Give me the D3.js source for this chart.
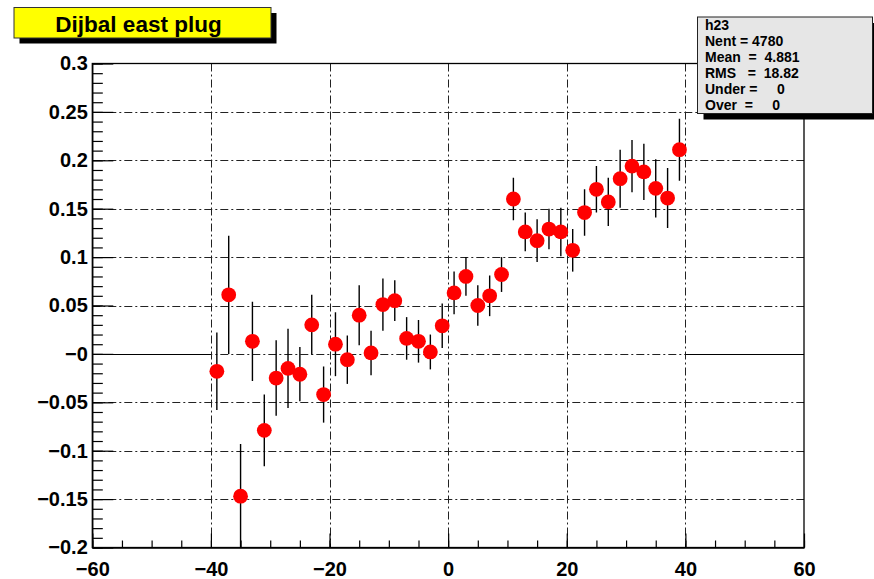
<!DOCTYPE html>
<html>
<head>
<meta charset="utf-8">
<script src="https://cdn.jsdelivr.net/npm/d3@7"></script>
<style>
  html, body { margin: 0; padding: 0; background: #fff; }
  svg { display: block; font-family: "Liberation Sans", Arial, Helvetica, sans-serif; font-weight: bold; }
</style>
</head>
<body>
<svg id="chart" width="874" height="579"></svg>
<script>
// Histogram h23: bin centres, contents and errors (bin width 2)
const binCenters = [-39, -37, -35, -33, -31, -29, -27, -25, -23, -21,
                    -19, -17, -15, -13, -11, -9, -7, -5, -3, -1,
                    1, 3, 5, 7, 9, 11, 13, 15, 17, 19,
                    21, 23, 25, 27, 29, 31, 33, 35, 37, 39];
const binValues = [-0.018, 0.061, -0.147, 0.013, -0.079, -0.025, -0.015, -0.021, 0.030, -0.042,
                   0.010, -0.006, 0.040, 0.001, 0.051, 0.055, 0.016, 0.013, 0.002, 0.029,
                   0.063, 0.080, 0.050, 0.060, 0.082, 0.160, 0.126, 0.117, 0.129, 0.126,
                   0.107, 0.146, 0.170, 0.157, 0.181, 0.194, 0.188, 0.171, 0.161, 0.211];
const binErrors = [0.040, 0.061, 0.054, 0.041, 0.037, 0.039, 0.041, 0.028, 0.031, 0.029,
                   0.033, 0.025, 0.031, 0.023, 0.027, 0.021, 0.022, 0.022, 0.018, 0.023,
                   0.022, 0.020, 0.021, 0.021, 0.018, 0.022, 0.020, 0.022, 0.021, 0.025,
                   0.022, 0.024, 0.024, 0.025, 0.030, 0.027, 0.029, 0.030, 0.031, 0.032];
const binHalfWidth = 1;
// ranges of empty bins (content 0)
const emptyRanges = [[-60, -40], [40, 60]];

const xMajorTicks = [-60, -40, -20, 0, 20, 40, 60];
const xTickLabels = ["\u221260", "\u221240", "\u221220", "0", "20", "40", "60"];
const yMajorTicks = [0.3, 0.25, 0.2, 0.15, 0.1, 0.05, 0, -0.05, -0.1, -0.15, -0.2];
const yTickLabels = ["0.3", "0.25", "0.2", "0.15", "0.1", "0.05", "\u22120", "\u22120.05", "\u22120.1", "\u22120.15", "\u22120.2"];

const titleText = "Dijbal east plug";
const statsLines = ["h23", "Nent = 4780", "Mean  =  4.881", "RMS   =  18.82", "Under =     0", "Over  =     0"];

const svg = d3.select("#chart");
const W = 874, H = 579;
const frame = { left: 92.3, right: 804, top: 63.5, bottom: 547.5 };

const x = d3.scaleLinear().domain([-60, 60]).range([frame.left, frame.right]);
const y = d3.scaleLinear().domain([-0.2, 0.3]).range([frame.bottom, frame.top]);

svg.append("rect").attr("width", W).attr("height", H).attr("fill", "#fff");

// grid (dash-dot)
const grid = svg.append("g").attr("stroke", "#222").attr("stroke-width", 1)
  .attr("stroke-dasharray", "8,3,2,3").attr("fill", "none");
grid.selectAll("line.gx").data(xMajorTicks.filter(v => v > -60 && v < 60)).join("line")
  .attr("class", "gx")
  .attr("x1", d => Math.round(x(d)) + 0.5).attr("x2", d => Math.round(x(d)) + 0.5)
  .attr("y1", frame.top).attr("y2", frame.bottom);
grid.selectAll("line.gy").data(yMajorTicks.filter(v => v > -0.2 + 1e-9 && v < 0.3 - 1e-9)).join("line")
  .attr("class", "gy")
  .attr("y1", d => Math.round(y(d)) + 0.5).attr("y2", d => Math.round(y(d)) + 0.5)
  .attr("x1", frame.left).attr("x2", frame.right);

// empty bins drawn at zero
svg.append("g").selectAll("line").data(emptyRanges).join("line")
  .attr("x1", d => x(d[0])).attr("x2", d => x(d[1]))
  .attr("y1", Math.round(y(0)) + 0.5).attr("y2", Math.round(y(0)) + 0.5)
  .attr("stroke", "#000").attr("stroke-width", 1.2);

// frame
svg.append("rect")
  .attr("x", frame.left).attr("y", frame.top)
  .attr("width", frame.right - frame.left).attr("height", frame.bottom - frame.top)
  .attr("fill", "none").attr("stroke", "#000").attr("stroke-width", 1.3);

// x axis: minor and major ticks pointing inwards
svg.append("g").attr("transform", `translate(0,${frame.bottom})`)
  .call(d3.axisBottom(x).tickValues(d3.range(-60, 61, 5)).tickSizeInner(-7).tickSizeOuter(0).tickFormat(""))
  .call(g => g.select(".domain").remove())
  .call(g => g.selectAll("line").attr("stroke", "#000").attr("stroke-width", 1.2));
svg.append("g").attr("transform", `translate(0,${frame.bottom})`)
  .call(d3.axisBottom(x).tickValues(xMajorTicks).tickSizeInner(-14).tickSizeOuter(0).tickPadding(14)
    .tickFormat((d, i) => xTickLabels[i]))
  .call(g => g.select(".domain").attr("stroke", "#000").attr("stroke-width", 1.3))
  .call(g => g.selectAll("line").attr("stroke", "#000").attr("stroke-width", 1.2))
  .call(g => g.selectAll("text").attr("font-size", 20).attr("font-weight", "bold")
    .attr("font-family", "Liberation Sans, Arial, sans-serif").attr("fill", "#000"));

// y axis
svg.append("g").attr("transform", `translate(${frame.left},0)`)
  .call(d3.axisLeft(y).tickValues(d3.range(0, 51).map(i => -0.2 + i * 0.01)).tickSizeInner(-10.5).tickSizeOuter(0).tickFormat(""))
  .call(g => g.select(".domain").remove())
  .call(g => g.selectAll("line").attr("stroke", "#000").attr("stroke-width", 1.2));
svg.append("g").attr("transform", `translate(${frame.left},0)`)
  .call(d3.axisLeft(y).tickValues(yMajorTicks).tickSizeInner(-21).tickSizeOuter(0).tickPadding(4.5)
    .tickFormat((d, i) => yTickLabels[i]))
  .call(g => g.select(".domain").attr("stroke", "#000").attr("stroke-width", 1.3))
  .call(g => g.selectAll("line").attr("stroke", "#000").attr("stroke-width", 1.2))
  .call(g => g.selectAll("text").attr("font-size", 20).attr("font-weight", "bold")
    .attr("font-family", "Liberation Sans, Arial, sans-serif").attr("fill", "#000"));

// data: error bars + markers
const pts = binCenters.map((c, i) => ({ c, v: binValues[i], e: binErrors[i] }));
const clipId = "plotclip";
svg.append("clipPath").attr("id", clipId).append("rect")
  .attr("x", frame.left).attr("y", frame.top)
  .attr("width", frame.right - frame.left).attr("height", frame.bottom - frame.top);
const dataG = svg.append("g").attr("clip-path", `url(#${clipId})`);
dataG.selectAll("line.ey").data(pts).join("line").attr("class", "ey")
  .attr("x1", d => x(d.c)).attr("x2", d => x(d.c))
  .attr("y1", d => y(d.v - d.e)).attr("y2", d => y(d.v + d.e))
  .attr("stroke", "#000").attr("stroke-width", 1.4);
dataG.selectAll("line.ex").data(pts).join("line").attr("class", "ex")
  .attr("x1", d => x(d.c - binHalfWidth)).attr("x2", d => x(d.c + binHalfWidth))
  .attr("y1", d => y(d.v)).attr("y2", d => y(d.v))
  .attr("stroke", "#000").attr("stroke-width", 1.2);
dataG.selectAll("circle").data(pts).join("circle")
  .attr("cx", d => x(d.c)).attr("cy", d => y(d.v)).attr("r", 7.4)
  .attr("fill", "#ff0000");

// title box with shadow
const tb = { x: 14, y: 7.5, w: 257, h: 30.5, sh: 5.5 };
svg.append("rect").attr("x", tb.x + tb.sh).attr("y", tb.y + tb.sh).attr("width", tb.w).attr("height", tb.h).attr("fill", "#000");
svg.append("rect").attr("x", tb.x).attr("y", tb.y).attr("width", tb.w).attr("height", tb.h)
  .attr("fill", "#ffff00").attr("stroke", "#333").attr("stroke-width", 1);
svg.append("text").attr("x", 138.5).attr("y", 31.5).attr("text-anchor", "middle")
  .attr("font-size", 22.5).attr("fill", "#000").text(titleText);

// stats box with shadow
const sb = { x: 697.5, y: 17, w: 175, h: 96.5, sh: 6 };
svg.append("rect").attr("x", sb.x + sb.sh).attr("y", sb.y + sb.sh).attr("width", sb.w).attr("height", sb.h).attr("fill", "#000");
svg.append("rect").attr("x", sb.x).attr("y", sb.y).attr("width", sb.w).attr("height", sb.h)
  .attr("fill", "#e6e6e6").attr("stroke", "#222").attr("stroke-width", 1);
svg.append("g").selectAll("text").data(statsLines).join("text")
  .attr("x", 705).attr("y", (d, i) => 30 + i * 15.9)
  .attr("font-size", 14).attr("fill", "#000")
  .style("white-space", "pre").attr("xml:space", "preserve")
  .text(d => d);
</script>
</body>
</html>
